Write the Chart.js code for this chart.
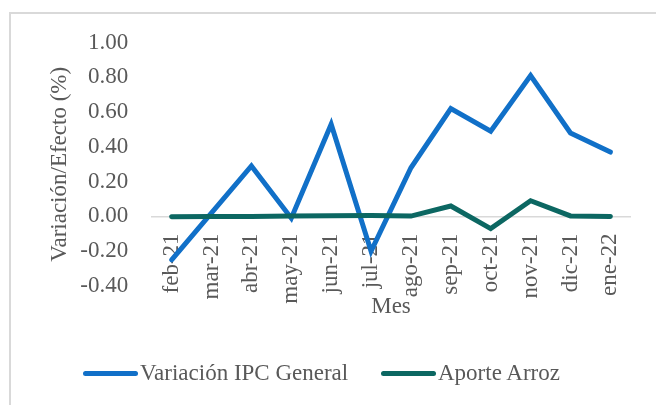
<!DOCTYPE html>
<html>
<head>
<meta charset="utf-8">
<script src="https://cdn.jsdelivr.net/npm/chart.js@4"></script>
<style>
  html, body { margin: 0; padding: 0; background: #fff; }
  #wrap { position: relative; width: 656px; height: 405px; overflow: hidden;
          font-family: "Liberation Serif", "Times New Roman", serif; color: #595959; }
  #frame { position: absolute; left: 9px; top: 12px; width: 700px; height: 500px;
           border-left: 2px solid #d9d9d9; border-top: 2px solid #d9d9d9; }
  canvas { position: absolute; left: 0; top: 0; }
  #xtitle { position: absolute; left: 291px; top: 293px; width: 200px; text-align: center;
            font-size: 23px; line-height: 26px; }
  .leg { position: absolute; top: 360px; display: flex; align-items: center;
         font-size: 23px; line-height: 26px; white-space: nowrap; }
  .leg .sw { display: inline-block; width: 55px; height: 5px; border-radius: 2.5px; margin-right: 2px; }
</style>
</head>
<body>
<div id="wrap">
  <div id="frame"></div>
  <canvas id="myChart" width="656" height="405"></canvas>
  <div id="xtitle">Mes</div>
  <div class="leg" style="left:83px"><span class="sw" style="background:#1170c8"></span>Variación IPC General</div>
  <div class="leg" style="left:381px"><span class="sw" style="background:#0c6762"></span>Aporte Arroz</div>
</div>
<script>
// months on the x axis
const months = ['feb-21', 'mar-21', 'abr-21', 'may-21', 'jun-21', 'jul-21',
                'ago-21', 'sep-21', 'oct-21', 'nov-21', 'dic-21', 'ene-22'];
// monthly variation of the general CPI (%)
const ipcGeneral = [-0.25, 0.02, 0.29, -0.01, 0.53, -0.20, 0.28, 0.62, 0.49, 0.81, 0.48, 0.37];
// contribution of rice (%)
const aporteArroz = [-0.002, 0.0, 0.0, 0.002, 0.004, 0.005, 0.002, 0.06, -0.07, 0.09, 0.003, 0.0];
// y axis range
const yMin = -0.4, yMax = 1.0, yStep = 0.2;

const textColor = '#595959';
const serif = "'Liberation Serif', 'Times New Roman', serif";

var ctx = document.getElementById('myChart').getContext('2d');
window.myLineChart = new Chart(ctx, {
    type: 'line',
    data: {
        labels: months,
        datasets: [{
            label: 'Variación IPC General',
            data: ipcGeneral,
            borderColor: '#1170c8',
            borderWidth: 5,
            borderCapStyle: 'round',
            pointRadius: 0,
            tension: 0,
            order: 1
        }, {
            label: 'Aporte Arroz',
            data: aporteArroz,
            borderColor: '#0c6762',
            borderWidth: 5,
            borderCapStyle: 'round',
            pointRadius: 0,
            tension: 0,
            order: 0
        }]
    },
    options: {
        responsive: false,
        animation: false,
        devicePixelRatio: 1,
        layout: { padding: { left: 0, right: 25, top: 42.5, bottom: 119 } },
        plugins: { legend: { display: false }, tooltip: { enabled: false } },
        scales: {
            x: {
                position: { y: 0 },
                offset: true,
                grid: { display: false, drawTicks: false },
                border: { display: true, color: '#d9d9d9', width: 1.5 },
                ticks: {
                    autoSkip: false,
                    maxRotation: 90,
                    minRotation: 90,
                    padding: 17,
                    color: textColor,
                    font: { family: serif, size: 23 }
                }
            },
            y: {
                min: yMin,
                max: yMax,
                grid: { display: false, drawTicks: false },
                border: { display: false },
                ticks: {
                    stepSize: yStep,
                    padding: 23.5,
                    color: textColor,
                    font: { family: serif, size: 23 },
                    callback: function(v) {
                        // avoid "-0.00" from float rounding
                        if (Math.abs(v) < 1e-9) v = 0;
                        return Number(v).toFixed(2);
                    }
                },
                title: {
                    display: true,
                    text: 'Variación/Efecto (%)',
                    color: textColor,
                    font: { family: serif, size: 23 },
                    padding: { top: 46, bottom: 0 }
                },
                afterFit: function(scale) { scale.width = 151.7; }
            }
        }
    }
});
</script>
</body>
</html>
